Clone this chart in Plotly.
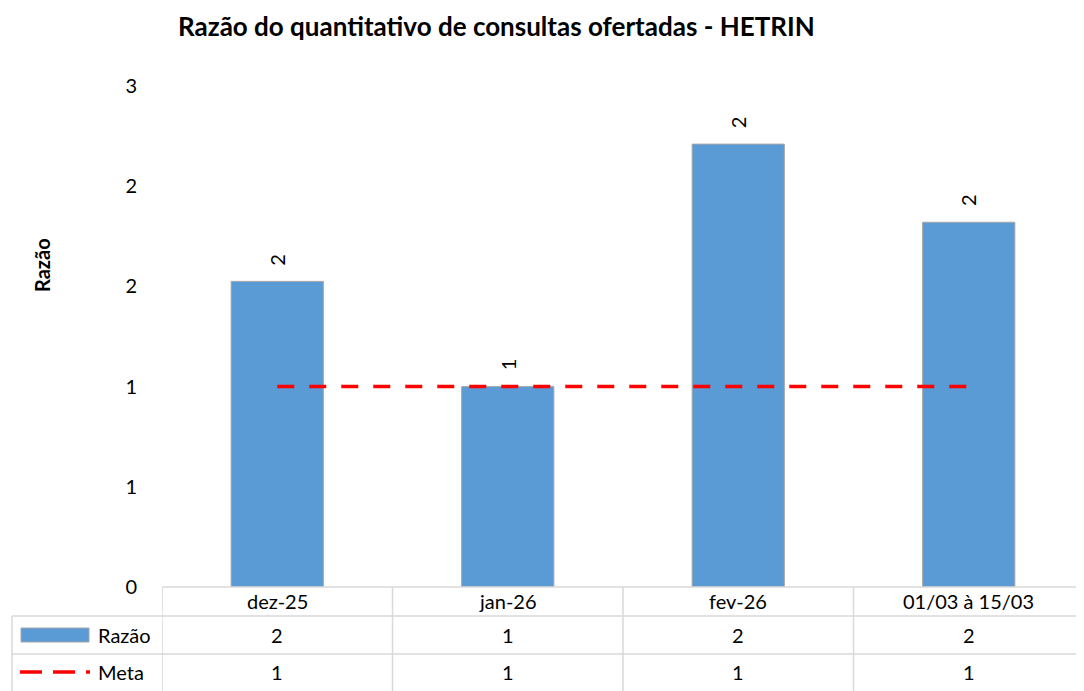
import plotly.graph_objects as go

categorias = ["dez-25", "jan-26", "fev-26", "01/03 à 15/03"]
razao = [1.525, 1.0, 2.21, 1.82]
meta = [1, 1, 1, 1]
y_ticks = [0, 0.5, 1, 1.5, 2, 2.5]
y_labels = ["0", "1", "1", "2", "2", "3"]

# reference pixel frame; the page body adds an 8px margin, so the figure is 8px smaller
OFF = 8
W, H = 1084 - OFF, 691 - OFF
L, R, T, B = 162, 1084, 86, 587
FONT = "Lato"
FS = 20
GRID = "#d9d9d9"


def py(p):
    return (B - p) / (B - T)


def px(p):
    return (p - L) / (R - L)


xs = list(range(len(categorias)))

fig = go.Figure()
fig.add_trace(go.Bar(
    x=xs, y=razao, width=0.4, name="Razão",
    marker=dict(color="#5b9bd5", line=dict(color="#a6a6a6", width=1)),
))
fig.add_trace(go.Scatter(
    x=xs, y=meta, mode="lines", name="Meta",
    line=dict(color="#ff0000", width=3.5, dash="17px,15px"),
))

shapes = []
ann = []

# rotated value labels above the bars
for i, v in enumerate(razao):
    ann.append(dict(text=f"{v:.0f}", xref="x", yref="y", x=i, y=v, yshift=22, textangle=-90,
                    xanchor="center", yanchor="middle", showarrow=False,
                    font=dict(size=FS, family=FONT, color="#000")))

# data table grid
shapes.append(dict(type="line", xref="paper", yref="paper", x0=0, x1=1, y0=py(587), y1=py(587),
                   line=dict(color=GRID, width=1.5)))
for yy in [616, 654]:
    shapes.append(dict(type="line", xref="paper", yref="paper", x0=px(12), x1=1, y0=py(yy), y1=py(yy),
                       line=dict(color=GRID, width=1.5)))
shapes.append(dict(type="line", xref="paper", yref="paper", x0=px(12), x1=px(12), y0=py(616), y1=py(691),
                   line=dict(color=GRID, width=1.5)))
for i in range(len(categorias) + 1):
    shapes.append(dict(type="line", xref="x", yref="paper", x0=i - 0.5, x1=i - 0.5, y0=py(587), y1=py(691),
                       line=dict(color=GRID, width=1.5)))

# legend keys
shapes.append(dict(type="rect", xref="paper", yref="paper", x0=px(21), x1=px(89), y0=py(642), y1=py(628),
                   fillcolor="#5b9bd5", line=dict(color="#a6a6a6", width=1)))
for a, b in [(20, 42), (53, 75), (86, 90)]:
    shapes.append(dict(type="line", xref="paper", yref="paper", x0=px(a), x1=px(b), y0=py(672), y1=py(672),
                       line=dict(color="#ff0000", width=3.5)))
ann.append(dict(text="Razão", xref="paper", yref="paper", x=px(96), y=py(635), xanchor="left",
                yanchor="middle", showarrow=False, font=dict(size=FS, family=FONT, color="#000")))
ann.append(dict(text="Meta", xref="paper", yref="paper", x=px(96), y=py(672), xanchor="left",
                yanchor="middle", showarrow=False, font=dict(size=FS, family=FONT, color="#000")))

for i, c in enumerate(categorias):
    ann.append(dict(text=c, xref="x", yref="paper", x=i, y=py(601), yanchor="middle",
                    showarrow=False, font=dict(size=FS, family=FONT, color="#000")))
    ann.append(dict(text=f"{razao[i]:.0f}", xref="x", yref="paper", x=i, y=py(635), yanchor="middle",
                    showarrow=False, font=dict(size=FS, family=FONT, color="#000")))
    ann.append(dict(text=f"{meta[i]:.0f}", xref="x", yref="paper", x=i, y=py(672), yanchor="middle",
                    showarrow=False, font=dict(size=FS, family=FONT, color="#000")))

# titles
ann.append(dict(text="<b>Razão do quantitativo de consultas ofertadas - HETRIN</b>", xref="paper", yref="paper",
                x=px(496), y=py(26), yanchor="middle", showarrow=False, borderpad=0,
                font=dict(size=26, family=FONT, color="#000")))
ann.append(dict(text="<b>Razão</b>", xref="paper", yref="paper", x=px(42), y=py(265), textangle=-90,
                xanchor="center", yanchor="middle", showarrow=False,
                font=dict(size=FS, family=FONT, color="#000")))

fig.update_layout(
    width=W, height=H,
    margin=dict(l=L - OFF, r=W - (R - OFF), t=T - OFF, b=H - (B - OFF), pad=0),
    plot_bgcolor="white", paper_bgcolor="white",
    showlegend=False,
    font=dict(family=FONT, size=FS, color="#000"),
    shapes=shapes, annotations=ann,
    xaxis=dict(range=[-0.5, 3.5], showticklabels=False, showgrid=False, zeroline=False, showline=False),
    yaxis=dict(range=[0, 2.5], tickvals=y_ticks, ticktext=y_labels, showgrid=False, zeroline=False,
               showline=False, ticklabelstandoff=24, tickfont=dict(size=FS)),
)

fig.write_html("out.html")
